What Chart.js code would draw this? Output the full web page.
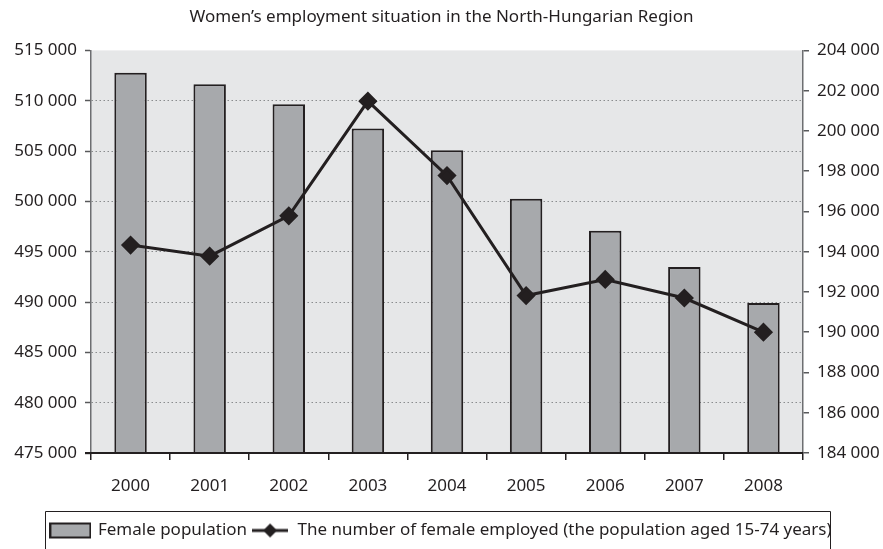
<!DOCTYPE html>
<html lang="en">
<head>
  <meta charset="UTF-8">
  <title>Women's employment situation in the North-Hungarian Region</title>
  <script src="https://cdn.jsdelivr.net/npm/chart.js"></script>
  <style>
    html, body { margin: 0; padding: 0; background: #fff; }
    #wrap { width: 883px; height: 549px; }
  </style>
</head>
<body>
  <div id="wrap"><canvas id="empChart" width="883" height="549"></canvas></div>

  <script>
    const years = ['2000', '2001', '2002', '2003', '2004', '2005', '2006', '2007', '2008'];
    const femalePopulation = [512790, 511630, 509640, 507250, 505070, 500250, 497070, 493480, 489900];
    const femaleEmployed = [194330, 193780, 195780, 201480, 197780, 191820, 192620, 191700, 190000];
    const leftTicks = [475000, 515000, 5000];   // min, max, step
    const rightTicks = [184000, 204000, 2000];

    const ink = '#231f20';
    const fmt = v => String(v).replace(/\B(?=(\d{3})+(?!\d))/g, ' ');
    const font = "'Noto Sans', sans-serif";

    // legend swatches
    function barSwatch() {
      const c = document.createElement('canvas');
      c.width = 42; c.height = 18;
      const g = c.getContext('2d');
      g.fillStyle = '#a7a9ac';
      g.fillRect(1, 2, 40, 14);
      g.strokeStyle = ink; g.lineWidth = 2;
      g.strokeRect(1, 2, 40, 14);
      return c;
    }
    function lineSwatch() {
      const c = document.createElement('canvas');
      c.width = 36; c.height = 18;
      const g = c.getContext('2d');
      g.strokeStyle = ink; g.lineWidth = 3;
      g.beginPath(); g.moveTo(0, 9); g.lineTo(36, 9); g.stroke();
      g.fillStyle = ink;
      g.beginPath(); g.moveTo(18, 2); g.lineTo(25, 9); g.lineTo(18, 16); g.lineTo(11, 9); g.closePath(); g.fill();
      return c;
    }

    const plotBg = {
      id: 'plotBg',
      beforeDraw(chart) {
        const a = chart.chartArea, ctx = chart.ctx;
        ctx.save();
        ctx.fillStyle = '#e6e7e8';
        ctx.fillRect(a.left, a.top, a.right - a.left, a.bottom - a.top);
        ctx.restore();
      },
      afterDatasetsDraw(chart) {
        // solid base line along the category axis
        const a = chart.chartArea, ctx = chart.ctx;
        ctx.save();
        ctx.strokeStyle = ink; ctx.lineWidth = 2;
        ctx.beginPath();
        ctx.moveTo(a.left - 6, Math.round(a.bottom));
        ctx.lineTo(a.right, Math.round(a.bottom));
        ctx.stroke();
        ctx.restore();
      }
    };

    const legendFrame = {
      id: 'legendFrame',
      afterDraw(chart) {
        const boxes = chart.legend.legendHitBoxes;
        if (!boxes || !boxes.length) return;
        const first = boxes[0], last = boxes[boxes.length - 1];
        const ctx = chart.ctx;
        ctx.save();
        ctx.strokeStyle = ink; ctx.lineWidth = 1;
        const l = Math.round(first.left - 6) + 0.5;
        const r = Math.round(last.left + last.width - 2) + 0.5;
        const t = Math.round(first.top - 11) + 0.5;
        ctx.beginPath();
        ctx.moveTo(l, chart.height + 5); ctx.lineTo(l, t); ctx.lineTo(r, t); ctx.lineTo(r, chart.height + 5);
        ctx.stroke();
        ctx.restore();
      }
    };

    new Chart(document.getElementById('empChart'), {
      data: {
        labels: years,
        datasets: [
          {
            type: 'line',
            label: 'The number of female employed (the population aged 15-74 years)',
            data: femaleEmployed,
            yAxisID: 'y1',
            borderColor: ink,
            backgroundColor: ink,
            borderWidth: 3,
            pointStyle: 'rectRot',
            pointRadius: 7.5,
            pointHoverRadius: 7.5,
            tension: 0,
            order: 0
          },
          {
            type: 'bar',
            label: 'Female population',
            data: femalePopulation,
            yAxisID: 'y',
            backgroundColor: '#a7a9ac',
            borderColor: ink,
            borderWidth: 2,
            borderSkipped: 'bottom',
            barPercentage: 0.41,
            categoryPercentage: 1,
            order: 1
          }
        ]
      },
      options: {
        responsive: false,
        animation: false,
        layout: { padding: 0 },
        plugins: {
          title: {
            display: true,
            text: "Women\u2019s employment situation in the North-Hungarian Region",
            color: ink,
            font: { family: font, size: 17, weight: 'normal' },
            padding: { top: 7, bottom: 23 }
          },
          legend: {
            position: 'bottom',
            reverse: true,
            labels: {
              color: ink,
              font: { family: font, size: 17 },
              usePointStyle: true,
              pointStyleWidth: 38,
              padding: 4,
              generateLabels(chart) {
                return chart.data.datasets.map((ds, i) => ({
                  text: ds.label,
                  datasetIndex: i,
                  fontColor: ink,
                  pointStyle: ds.type === 'bar' ? barSwatch() : lineSwatch(),
                  hidden: false,
                  lineWidth: 0
                }));
              }
            }
          },
          tooltip: { enabled: false }
        },
        scales: {
          x: {
            offset: true,
            grid: {
              offset: true,
              drawOnChartArea: false,
              color: ink,
              tickLength: 7,
              lineWidth: 1.5
            },
            border: { color: ink, width: 2 },
            ticks: { color: ink, font: { family: font, size: 17 }, padding: 16 },
            afterFit(s) { s.height = 65; }
          },
          y: {
            position: 'left',
            min: leftTicks[0], max: leftTicks[1],
            ticks: {
              stepSize: leftTicks[2],
              color: ink,
              font: { family: font, size: 17 },
              padding: 8,
              callback: fmt
            },
            grid: {
              // no dotted line on the axis itself or along the top edge
              color: c => (c.tick && (c.tick.value === leftTicks[0] || c.tick.value === leftTicks[1])) ? 'rgba(0,0,0,0)' : '#8a8c8e',
              lineWidth: 1,
              tickLength: 6,
              tickColor: '#58595b',
              tickBorderDash: [],
              tickWidth: 1.5
            },
            border: { color: '#6d6e71', width: 1.5, dash: [1.5, 2.5] },
            afterFit(s) { s.width = 91; }
          },
          y1: {
            position: 'right',
            min: rightTicks[0], max: rightTicks[1],
            ticks: {
              stepSize: rightTicks[2],
              color: ink,
              font: { family: font, size: 17 },
              padding: 8,
              callback: fmt
            },
            grid: {
              drawOnChartArea: false,
              tickLength: 6,
              color: '#58595b',
              lineWidth: 1.5
            },
            border: { color: '#6d6e71', width: 1.5 },
            afterFit(s) { s.width = 80; }
          }
        }
      },
      plugins: [plotBg, legendFrame]
    });
  </script>
</body>
</html>
